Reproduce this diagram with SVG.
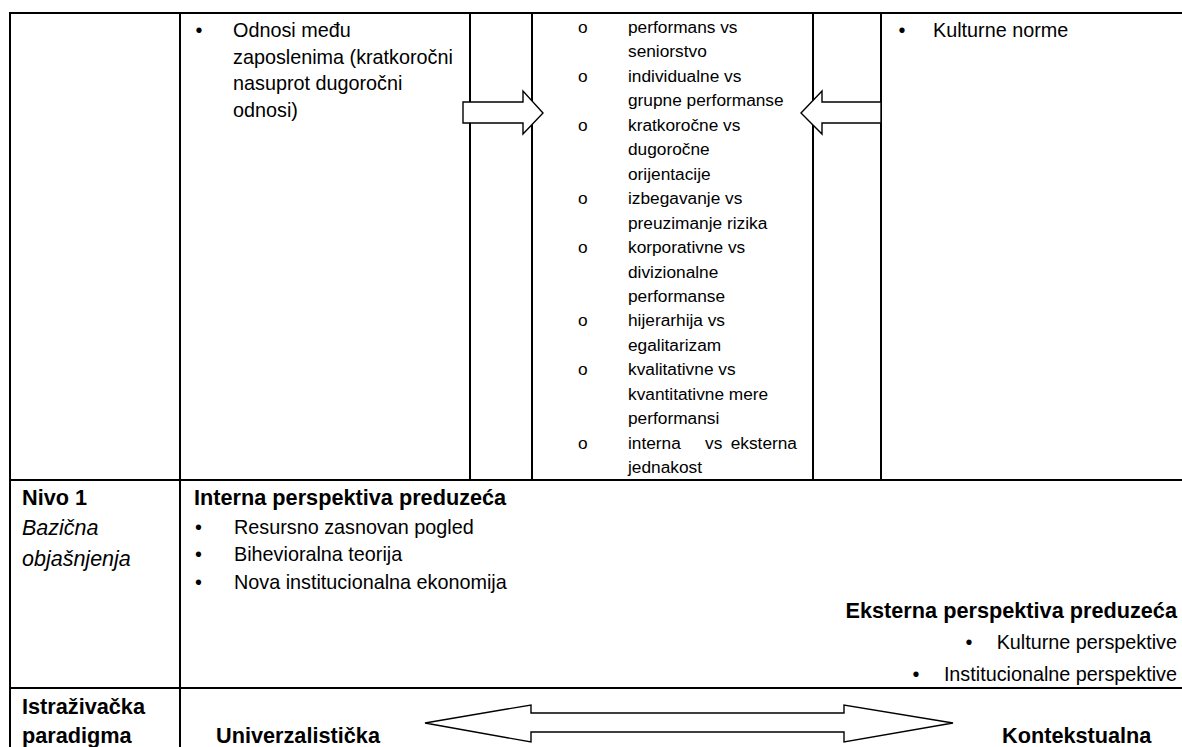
<svg xmlns="http://www.w3.org/2000/svg" width="1182" height="747" viewBox="0 0 1182 747">
  <style>
    .grid { stroke: #000; stroke-width: 2; fill: none; }
    .t { font-family: "Liberation Sans", Arial, sans-serif; font-size: 19.8px; fill: #000; }
    .s { font-family: "Liberation Sans", Arial, sans-serif; font-size: 17.3px; fill: #000; }
    .b { font-family: "Liberation Sans", Arial, sans-serif; font-size: 21.7px; font-weight: bold; fill: #000; }
    .i { font-family: "Liberation Sans", Arial, sans-serif; font-size: 21.5px; font-style: italic; fill: #000; }
    .arrow { fill: #fff; stroke: #000; stroke-width: 1.4; stroke-linejoin: miter; }
  </style>
  <rect width="1182" height="747" fill="#fff"/>

  <!-- table rules -->
  <g id="table" class="grid">
    <line x1="9" y1="13" x2="1182" y2="13"/>
    <line x1="9" y1="480" x2="1182" y2="480"/>
    <line x1="9" y1="688" x2="1182" y2="688"/>
    <line x1="10" y1="12" x2="10" y2="747"/>
    <line x1="180" y1="12" x2="180" y2="747"/>
    <line x1="470" y1="12" x2="470" y2="480"/>
    <line x1="532" y1="12" x2="532" y2="480"/>
    <line x1="813" y1="12" x2="813" y2="480"/>
    <line x1="881" y1="12" x2="881" y2="480"/>
  </g>

  <!-- upper row: employee relations -->
  <g id="odnosi" class="t">
    <text x="195.5" y="37">•</text>
    <text x="233" y="37">Odnosi među</text>
    <text x="233" y="63.7">zaposlenima (kratkoročni</text>
    <text x="233" y="90.3">nasuprot dugoročni</text>
    <text x="233" y="117">odnosi)</text>
  </g>

  <!-- upper row: pay dimensions -->
  <g id="dimenzije" class="s">
    <text x="578" y="33">o</text><text x="628" y="33">performans vs</text>
    <text x="628" y="57.4">seniorstvo</text>
    <text x="578" y="81.9">o</text><text x="628" y="81.9">individualne vs</text>
    <text x="628" y="106.3">grupne performanse</text>
    <text x="578" y="130.8">o</text><text x="628" y="130.8">kratkoročne vs</text>
    <text x="628" y="155.2">dugoročne</text>
    <text x="628" y="179.7">orijentacije</text>
    <text x="578" y="204.1">o</text><text x="628" y="204.1">izbegavanje vs</text>
    <text x="628" y="228.6">preuzimanje rizika</text>
    <text x="578" y="253">o</text><text x="628" y="253">korporativne vs</text>
    <text x="628" y="277.5">divizionalne</text>
    <text x="628" y="301.9">performanse</text>
    <text x="578" y="326.4">o</text><text x="628" y="326.4">hijerarhija vs</text>
    <text x="628" y="350.8">egalitarizam</text>
    <text x="578" y="375.3">o</text><text x="628" y="375.3">kvalitativne vs</text>
    <text x="628" y="399.7">kvantitativne mere</text>
    <text x="628" y="424.2">performansi</text>
    <text x="578" y="448.6">o</text><text x="628" y="448.6">interna</text><text x="705" y="448.6">vs</text><text x="797" y="448.6" text-anchor="end">eksterna</text>
    <text x="628" y="473">jednakost</text>
  </g>

  <!-- upper row: cultural norms -->
  <g id="norme" class="t">
    <text x="898.5" y="37">•</text>
    <text x="933" y="37">Kulturne norme</text>
  </g>

  <!-- level 1 label -->
  <g id="nivo1">
    <text class="b" x="22" y="505">Nivo 1</text>
    <text class="i" x="22" y="535">Bazična</text>
    <text class="i" x="22" y="566">objašnjenja</text>
  </g>

  <!-- internal perspective -->
  <g id="interna">
    <text class="b" x="194" y="505">Interna perspektiva preduzeća</text>
    <g class="t">
      <text x="195" y="534">•</text><text x="234" y="534">Resursno zasnovan pogled</text>
      <text x="195" y="561">•</text><text x="234" y="561">Bihevioralna teorija</text>
      <text x="195" y="589">•</text><text x="234" y="589">Nova institucionalna ekonomija</text>
    </g>
  </g>

  <!-- external perspective -->
  <g id="eksterna">
    <text class="b" x="1177" y="618" text-anchor="end">Eksterna perspektiva preduzeća</text>
    <g class="t">
      <text x="965.5" y="649">•</text><text x="1177" y="649" text-anchor="end">Kulturne perspektive</text>
      <text x="912.5" y="681">•</text><text x="1177" y="681" text-anchor="end">Institucionalne perspektive</text>
    </g>
  </g>

  <!-- research paradigm row -->
  <g id="paradigma">
    <text class="b" x="22" y="714">Istraživačka</text>
    <text class="b" x="22" y="743">paradigma</text>
  </g>
  <g id="univerzalisticka">
    <text class="b" x="216" y="743">Univerzalistička</text>
  </g>
  <g id="kontekstualna">
    <text class="b" x="1002" y="743">Kontekstualna</text>
  </g>

  <!-- block arrows -->
  <g id="connectors" class="arrow">
    <polygon points="463,102 523,102 523,91 543,113 523,134 523,123 463,123"/>
    <polygon points="881,102 822,102 822,91 801,113 822,134 822,123 881,123"/>
    <polygon points="425,723 531,705 531,713 844,713 844,705 953,723 844,742 844,732 531,732 531,742"/>
  </g>
</svg>
